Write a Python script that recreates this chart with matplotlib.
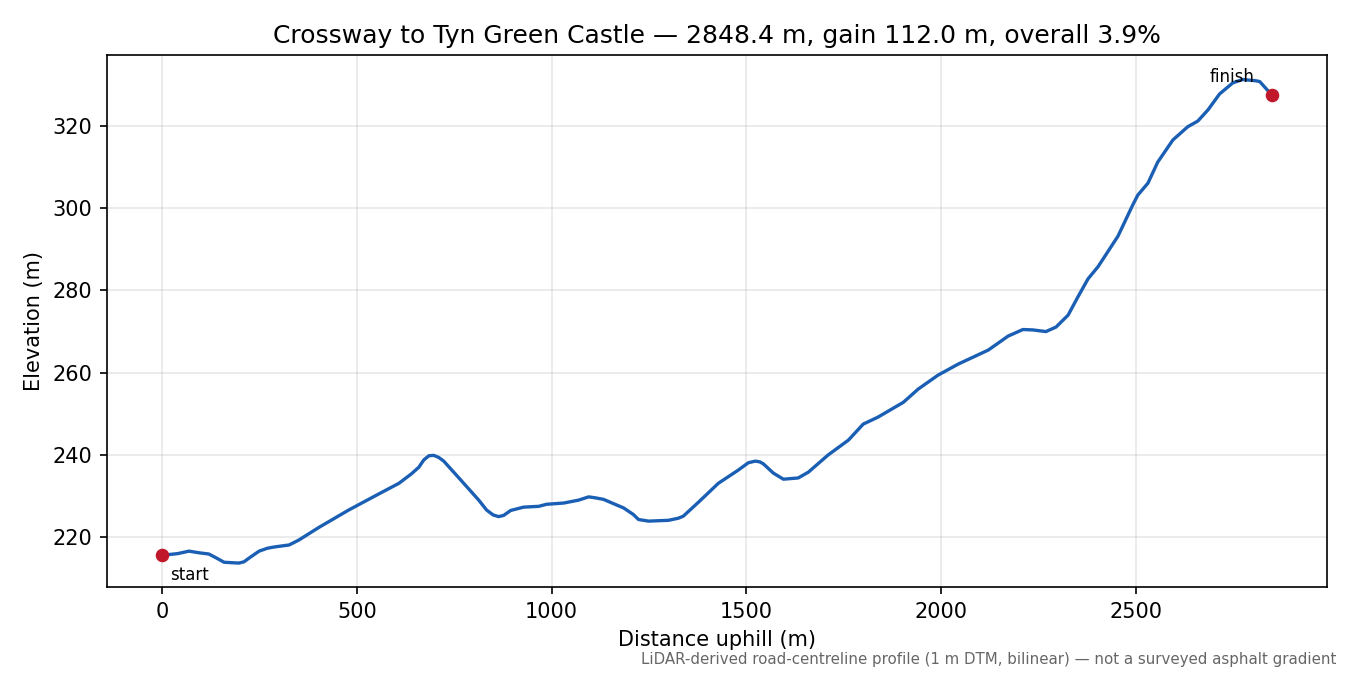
import matplotlib
matplotlib.use('Agg')
import matplotlib.pyplot as plt
import numpy as np

# road profile (distance m, elevation m)
dist = [0, 40, 69, 95, 120, 140, 159, 197, 210, 223, 249, 270, 287, 326, 351, 403, 479, 556, 608,
        640, 659, 672, 685, 697, 710, 723, 762, 813, 833, 850, 864, 877, 895, 928, 967, 987, 1031,
        1069, 1095, 1110, 1133, 1185, 1210, 1223, 1249, 1300, 1325, 1338, 1377, 1428, 1479, 1505,
        1523, 1535, 1544, 1569, 1595, 1633, 1659, 1710, 1762, 1800, 1838, 1903, 1941, 1992, 2044,
        2121, 2172, 2210, 2236, 2269, 2295, 2326, 2351, 2377, 2403, 2454, 2492, 2505, 2531, 2556,
        2595, 2633, 2659, 2685, 2715, 2749, 2774, 2808, 2818, 2848.4]
elev = [215.6, 216.0, 216.6, 216.2, 215.9, 214.9, 213.9, 213.7, 214.0, 214.9, 216.6, 217.3, 217.6,
        218.1, 219.3, 222.4, 226.6, 230.5, 233.1, 235.4, 237.0, 238.8, 239.8, 239.9, 239.4, 238.5,
        234.4, 229.0, 226.6, 225.4, 225.0, 225.3, 226.5, 227.3, 227.5, 228.0, 228.3, 229.0, 229.8,
        229.6, 229.2, 227.1, 225.5, 224.3, 223.9, 224.1, 224.6, 225.1, 228.5, 233.1, 236.3, 238.1,
        238.5, 238.3, 237.8, 235.6, 234.1, 234.4, 235.8, 240.0, 243.6, 247.5, 249.2, 252.8, 256.0,
        259.4, 262.1, 265.5, 268.9, 270.5, 270.4, 270.0, 271.1, 274.0, 278.4, 282.8, 285.8, 293.2,
        300.8, 303.2, 306.1, 311.2, 316.6, 319.8, 321.2, 323.9, 327.8, 330.5, 331.3, 331.0, 330.8,
        327.6]

title = 'Crossway to Tyn Green Castle \u2014 2848.4 m, gain 112.0 m, overall 3.9%'
note = 'LiDAR-derived road-centreline profile (1 m DTM, bilinear) \u2014 not a surveyed asphalt gradient'

fig, ax = plt.subplots(figsize=(9, 4.5), dpi=150)
fig.subplots_adjust(left=0.079, right=0.983, top=0.918, bottom=0.13)
ax.plot(dist, elev, color='#1a5fb4', lw=1.6)
ax.plot([dist[0], dist[-1]], [elev[0], elev[-1]], 'o', color='#c0182a', ms=5.5, zorder=3)
ax.annotate('start', (dist[0], elev[0]), xytext=(4, -5), textcoords='offset points',
            ha='left', va='top', fontsize=8)
ax.annotate('finish', (dist[-1], elev[-1]), xytext=(-8, 4), textcoords='offset points',
            ha='right', va='bottom', fontsize=8)
ax.set_title(title, fontsize=12)
ax.set_xlabel('Distance uphill (m)')
ax.set_ylabel('Elevation (m)')
ax.grid(alpha=0.3)
fig.text(0.99, 0.012, note, ha='right', va='bottom', fontsize=7.2, color='#666666')
fig.savefig('out.png', dpi=150)
